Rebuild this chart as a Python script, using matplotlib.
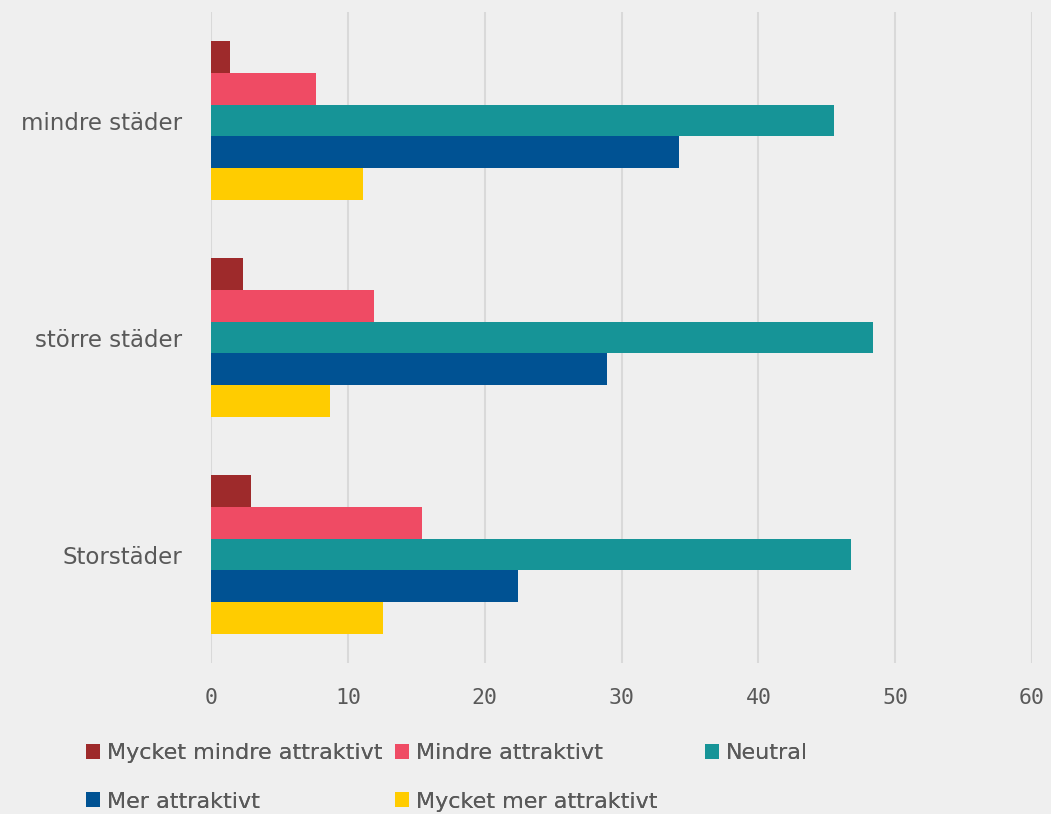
import matplotlib.pyplot as plt
import numpy as np

# kategorier uppifrån och ned
kategorier = ['mindre städer', 'större städer', 'Storstäder']
serier = ['Mycket mindre attraktivt', 'Mindre attraktivt', 'Neutral',
          'Mer attraktivt', 'Mycket mer attraktivt']
farger = ['#9e2a2b', '#ef4b64', '#169497', '#005293', '#ffcc00']

mycket_mindre = [1.4, 2.3, 2.9]
mindre = [7.7, 11.9, 15.4]
neutral = [45.5, 48.4, 46.8]
mer = [34.2, 28.9, 22.4]
mycket_mer = [11.1, 8.7, 12.6]
varden = [mycket_mindre, mindre, neutral, mer, mycket_mer]

xticks = [0, 10, 20, 30, 40, 50, 60]

bg = '#efefef'
textfarg = '#595959'

fig = plt.figure(figsize=(10.51, 8.14), dpi=100, facecolor=bg)
ax = fig.add_axes([0.2008, 0.1855, 0.7812, 0.7997], facecolor=bg)

y = np.arange(len(kategorier))
h = 0.147
staplar = []
for i, (namn, v) in enumerate(zip(serier, varden)):
    b = ax.barh(y + (i - 2) * h, v, height=h, color=farger[i], label=namn, zorder=3)
    staplar.append(b)

ax.set_ylim(-0.5, 2.5)
ax.invert_yaxis()
ax.set_xlim(0, 60)
ax.set_xticks(xticks)
ax.set_yticks(y)
ax.set_yticklabels(kategorier)
for lbl in ax.get_yticklabels():
    lbl.set_fontfamily('DejaVu Sans')
for lbl in ax.get_xticklabels():
    lbl.set_fontfamily('DejaVu Sans Mono')
ax.tick_params(axis='y', length=0, pad=21, labelsize=16.5, labelcolor=textfarg)
ax.tick_params(axis='x', length=0, pad=18, labelsize=15.5, labelcolor=textfarg)

ax.grid(axis='x', color='#d9d9d9', linewidth=1.5, zorder=0)
ax.grid(axis='y', visible=False)
for s in ax.spines.values():
    s.set_visible(False)

# legend i tre kolumner, rad för rad
kolumner = [[0, 3], [1, 4], [2]]
xpos = [0.0818, 0.3758, 0.6708]
for kol, xp in zip(kolumner, xpos):
    leg = fig.legend([staplar[k] for k in kol], [serier[k] for k in kol],
                     loc='upper left', bbox_to_anchor=(xp, 0.087),
                     frameon=False, fontsize=16, handlelength=0.65,
                     handleheight=0.65, handletextpad=0.3, labelspacing=1.28,
                     borderpad=0, borderaxespad=0, labelcolor=textfarg)
    fig.add_artist(leg)

plt.savefig('out.png', dpi=100, facecolor=bg)
